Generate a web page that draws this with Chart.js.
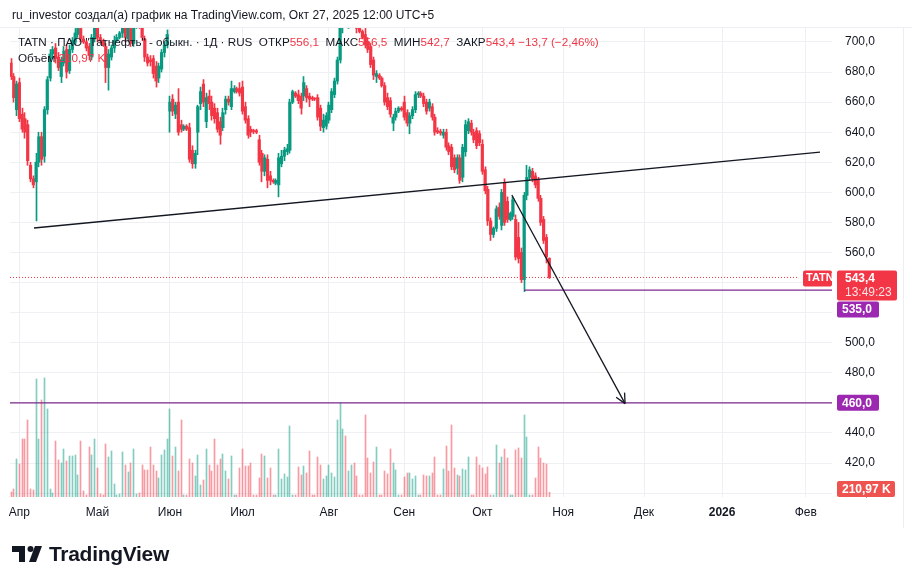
<!DOCTYPE html>
<html lang="ru">
<head>
<meta charset="utf-8">
<script src="https://cdn.jsdelivr.net/npm/chart.js@4.4.1/dist/chart.umd.min.js"></script>
<style>
  html, body { margin: 0; padding: 0; background: #fff; }
  #wrap { position: relative; width: 912px; height: 586px; overflow: hidden; font-family: "Liberation Sans", Arial, sans-serif; color: #131722; }
  #c { position: absolute; left: 0; top: 0; }
  .top { position: absolute; left: 12px; top: 8px; font-size: 12px; white-space: nowrap; }
  .sep { position: absolute; left: 0; top: 27px; width: 912px; height: 1px; background: #eceef2; }
  .legend { position: absolute; left: 18px; top: 34px; font-size: 11.7px; line-height: 16px; white-space: nowrap; z-index: 2; }
  .red { color: #f23645; }
  .logo { position: absolute; left: 12px; top: 542px; display: flex; align-items: center; }
  .logo span { font-size: 21px; font-weight: bold; margin-left: 7px; letter-spacing: -0.3px; }
  .edge { position: absolute; left: 903px; top: 28px; width: 1px; height: 500px; background: #eceef2; }
</style>
</head>
<body>
<div id="wrap">
  <canvas id="c" width="912" height="586"></canvas>
  <div class="top">ru_investor создал(а) график на TradingView.com, Окт 27, 2025 12:00 UTC+5</div>
  <div class="sep"></div>
  <div class="edge"></div>
  <div class="legend">
    <div>TATN · ПАО "Татнефть" - обыкн. · 1Д · RUS&nbsp; ОТКР<span class="red">556,1</span>&nbsp; МАКС<span class="red">556,5</span>&nbsp; МИН<span class="red">542,7</span>&nbsp; ЗАКР<span class="red">543,4 −13,7 (−2,46%)</span></div>
    <div>Объём <span class="red">210,97 K</span></div>
  </div>
  <div class="logo">
    <svg width="30" height="18" viewBox="0 0 30 18">
      <rect x="0" y="1" width="13" height="6" fill="#131722"/>
      <rect x="7" y="1" width="6" height="16" fill="#131722"/>
      <circle cx="18.5" cy="4" r="3" fill="#131722"/>
      <polygon points="23,1 30,1 24,17 17,17" fill="#131722"/>
    </svg>
    <span>TradingView</span>
  </div>
</div>
<script>
// daily bars from Mar 29 to Oct 27 (weekend sessions included), prices in RUB
const opens = [
  686,677,655,673,652,649,645,618,609,607,
  620,637,624,655,676,692,696,690,677,686,
  695,681,695,700,705,709,702,700,697,690,
  702,711,703,701,697,683,690,696,701,703,
  706,712,702,709,699,710,712,712,702,690,
  688,689,684,676,682,693,698,654,662,652,
  660,645,642,644,643,628,619,640,659,672,
  647,664,660,656,653,647,643,655,662,657,
  667,669,669,670,657,649,642,641,641,635,
  626,614,622,611,608,606,605,619,624,627,
  628,660,666,665,664,664,669,664,663,662.5,
  663,656,643,644,648,655,665,674,688,710,
  720,713,722,726,716,709,707,705,700,697,
  688,677,678,676,671,663,661,646,650,654,
  656,660,653,646,651,655,665,666,664,660,
  656,657,650,641,640.5,638,640,631,630,623,
  616,623,610,627,641,646,640,641,639,632,
  615,602,581,572,576,590,578,606,594,582,
  584,582,570,560,542,598,610,614,611,608,
  596,582,570,556.1
];
const highs = [
  689,679,674,676,656,653,648,620,611,626,
  640,640,657,677,695,697,699,693,690,697,
  698,698,703,709,712,713,704,701,699,705,
  714,714,705,702,699,695,698,704,705,707,
  714,716,713,712,713,714,713,715,704,692,
  691,691,687,686,695,700,708,664,665,660,
  669,648,645,645,646,631,628,658,670,675,
  666,668,664,659,656,650,656,664,664,674,
  671,670,673,674,660,651,644,642,642,638,
  628,625,625,614,609,609,626,628,630,632,
  662,668,667,668,666,677,671,666,664,663,
  665,658,652,653,660,669,676,690,712,725,
  728,726,730,729,719,711,708,709,703,699,
  690,681,679,677,673,666,663,652,656,657,
  657,664,655,653,657,667,667,667,666,662,
  662,659,652,643,642,642,642,633,632,625,
  625,625,632,648,649,648,642,643,641,635,
  617,604,583,577,591,593,602,609,597,587,
  597,585,580,563,600,618,617,616,613,610,
  598,584,572,556.5
];
const lows = [
  675,660,651,647,640,636,618,607,603,581,
  617,618,620,652,674,689,686,681,673,684,
  676,679,693,698,703,700,699,694,688,688,
  700,700,699,697,673,668,688,693,700,702,
  703,700,700,697,697,709,709,701,687,684,
  684,676,670,673,680,690,696,640,651,649,
  638,640,641,641,620,616,616,625,655,657,
  643,655,648,646,640,632,641,652,658,655,
  666,666,664,652,646,636,637,639,639,618,
  607,611,603,605,606,605,597,617,621,625,
  626,659,663,659,652,661,660,657,661,661,
  648,641,640,642,646,653,663,672,686,706,
  710,709,716,712,706,706,702,696,693,683,
  675,673,675,670,658,655,650,641,648,653,
  654,648,644,639,649,653,663,663,657,652,
  654,648,638,639,638,636,628,625,615,613,
  612,606,607,624,639,638,633,629,631,612,
  599,578,568,570,574,582,575,578,580,581,
  582,555,553,540,534,595,608,607,603,594,
  578,566,553,542.7
];
const closes = [
  677,663,672,649,642,640,621,609,605,620,
  637,622,655,675,692,695,689,683,688,694,
  680,695,701,706,709,702,700,696,691,703,
  711,703,701,698,683,692,696,701,703,706,
  711,703,710,699,710,712,711,703,690,686,
  687,679,674,684,693,698,705,660,654,658,
  640,642,644,642,622,619,626,657,667,660,
  663,659,651,649,642,638,653,662,660,669,
  669,667,666,654,648,638,640,640.5,640,620,
  614,623,608,608,607,608,623,624,628,629,
  660,667,664,661,656,673,663,662,662,662,
  650,644,648,651,658,667,674,688,710,720,
  714,722,726,716,709,707,703,698,695,685,
  678,679,676,671,660,657,652,650,654,656,
  655,650,646,651,655,665,666,664,659,654,
  660,650,640,640,639.5,640,630,627,617,615,
  623,608,630,645,647,640,635,631,633,614,
  601,581,572,576,589,584,600,580,582,586,
  595,557,556,542,598,610,615,609,605,596,
  580,568,557.1,543.4
];
// volume, thousands of shares
const volumes = [
  225,360,1710,1485,2610,2610,3465,360,315,5310,
  2610,4365,5355,3960,360,180,2520,1665,1530,2160,
  1620,1845,1845,1890,990,2520,270,90,2250,1890,
  2610,1305,135,90,2385,1800,2070,585,90,135,
  2025,1440,1125,1530,2160,135,180,1440,1215,1215,
  2250,1440,1170,855,1890,2115,2610,3960,1845,2250,
  1170,3465,90,90,1710,1530,945,1890,540,765,
  2160,1440,1170,2610,1440,1710,1935,1170,810,1845,
  90,90,1305,2160,1395,1395,1530,90,90,855,
  1935,1845,855,1305,90,90,2160,810,1035,900,
  3195,90,90,1350,990,1395,1080,2070,90,90,
  1800,1440,810,945,1440,1080,900,3465,4230,3060,
  2745,1170,1440,1530,945,90,90,3690,1755,1080,
  1575,2250,90,90,1170,1035,2160,1530,1215,90,
  90,900,1080,1080,810,945,90,90,990,945,
  945,1080,1800,90,90,1260,2295,1170,3240,1305,
  990,945,1260,1215,1800,90,90,1800,1440,1305,
  1035,1350,90,90,2340,1530,1800,2160,1755,90,
  90,2115,2205,1755,3690,2700,90,90,855,2250,
  1755,1530,1485,210.97
];

// time axis: bar number where each month starts
const monthTicks = [3, 31, 57, 83, 114, 141, 169, 198, 227, 255, 285];
const monthLabels = ['Апр', 'Май', 'Июн', 'Июл', 'Авг', 'Сен', 'Окт', 'Ноя', 'Дек', '2026', 'Фев'];
const priceTicks = [400, 420, 440, 460, 480, 500, 520, 540, 560, 580, 600, 620, 640, 660, 680, 700];

// drawings
const trendX = [8.25, 290.1];
const trendY = [576.3, 626.8];
const arrowX = [179.6, 220.2];
const arrowY = [598.2, 459.5];
const supportLevel = 535;
const supportFrom = 184;
const targetLevel = 460;
const lastPrice = 543.4;

const X_MIN = -0.36, X_MAX = 294.4;
const UP = '#089981', DOWN = '#f23645';
const PURPLE_LINE = '#7b2a8e', PURPLE_BOX = '#9c27b0';

const idx = opens.map((_, i) => i);
const isUp = i => closes[i] >= opens[i];
const fmt = v => v.toFixed(1).replace('.', ',');

function roundBox(ctx, x, y, w, h, color) {
    ctx.fillStyle = color;
    ctx.beginPath();
    ctx.roundRect(x, y, w, h, 2);
    ctx.fill();
}

// keep 1px wicks and volume sticks on whole pixels so they stay crisp
const snapThin = {
    id: 'snapThin',
    beforeDatasetsDraw(chart) {
        [6, 7].forEach(d => {
            chart.getDatasetMeta(d).data.forEach(el => { el.x = Math.floor(el.x) + 0.5; });
        });
    }
};

const overlay = {
    id: 'overlay',
    afterDatasetsDraw(chart) {
        // arrow head at the end of the arrow line
        const meta = chart.getDatasetMeta(1);
        const p0 = meta.data[0], p1 = meta.data[1];
        const ang = Math.atan2(p1.y - p0.y, p1.x - p0.x);
        const ctx = chart.ctx;
        ctx.save();
        ctx.strokeStyle = '#131722';
        ctx.lineWidth = 1.3;
        ctx.beginPath();
        [0.45, -0.45].forEach(a => {
            ctx.moveTo(p1.x, p1.y);
            ctx.lineTo(p1.x - 11 * Math.cos(ang + a), p1.y - 11 * Math.sin(ang + a));
        });
        ctx.stroke();
        ctx.restore();
    },
    afterDraw(chart) {
        const ctx = chart.ctx;
        const ys = chart.scales.y;
        const area = chart.chartArea;
        const bx = area.right + 5;
        ctx.save();
        ctx.textBaseline = 'middle';
        ctx.textAlign = 'left';

        const yLast = ys.getPixelForValue(lastPrice);
        // TATN tag inside the plot
        roundBox(ctx, area.right - 29, yLast - 7, 29, 16, DOWN);
        ctx.fillStyle = '#fff';
        ctx.font = 'bold 11px "Liberation Sans", Arial, sans-serif';
        ctx.fillText('TATN', area.right - 26, yLast + 1);

        // last price + countdown
        roundBox(ctx, bx, yLast - 7, 60, 30, DOWN);
        ctx.fillStyle = '#fff';
        ctx.font = 'bold 12px "Liberation Sans", Arial, sans-serif';
        ctx.fillText(fmt(lastPrice), bx + 8, yLast + 1);
        ctx.font = '12px "Liberation Sans", Arial, sans-serif';
        ctx.fillStyle = '#ffe3e5';
        ctx.fillText('13:49:23', bx + 8, yLast + 15);

        // support label (pushed under the price box)
        const ySup = yLast + 24;
        roundBox(ctx, bx, ySup, 42, 16, PURPLE_BOX);
        ctx.fillStyle = '#fff';
        ctx.font = 'bold 12px "Liberation Sans", Arial, sans-serif';
        ctx.fillText(fmt(supportLevel), bx + 5, ySup + 8.5);

        // target label
        const yT = ys.getPixelForValue(targetLevel);
        roundBox(ctx, bx, yT - 8, 42, 16, PURPLE_BOX);
        ctx.fillStyle = '#fff';
        ctx.fillText(fmt(targetLevel), bx + 5, yT + 0.5);

        // volume label
        roundBox(ctx, bx, area.bottom - 16, 58, 16, '#ef5350');
        ctx.fillStyle = '#fff';
        ctx.fillText('210,97 K', bx + 5, area.bottom - 7.5);
        ctx.restore();
    }
};

new Chart(document.getElementById('c'), {
    type: 'bar',
    data: {
        datasets: [
            {
                type: 'line',
                data: trendX.map((x, i) => ({ x, y: trendY[i] })),
                borderColor: '#131722', borderWidth: 1.3, pointRadius: 0, order: 1
            },
            {
                type: 'line',
                data: arrowX.map((x, i) => ({ x, y: arrowY[i] })),
                borderColor: '#131722', borderWidth: 1.3, pointRadius: 0, order: 1
            },
            {
                type: 'line',
                data: [{ x: supportFrom, y: supportLevel }, { x: X_MAX, y: supportLevel }],
                borderColor: PURPLE_LINE, borderWidth: 1.3, pointRadius: 0, order: 1
            },
            {
                type: 'line',
                data: [{ x: X_MIN, y: targetLevel }, { x: X_MAX, y: targetLevel }],
                borderColor: PURPLE_LINE, borderWidth: 1.3, pointRadius: 0, order: 1
            },
            {
                type: 'line',
                data: [{ x: X_MIN, y: lastPrice }, { x: 282.5, y: lastPrice }],
                borderColor: DOWN, borderWidth: 1, borderDash: [1, 2], pointRadius: 0, order: 1
            },
            {
                // candle bodies
                data: idx.map(i => ({ x: i, y: [opens[i], closes[i]] })),
                backgroundColor: ctx => isUp(ctx.dataIndex) ? UP : DOWN,
                barThickness: 2.5, minBarLength: 1, grouped: false, order: 2
            },
            {
                // wicks
                data: idx.map(i => ({ x: i, y: [lows[i], highs[i]] })),
                backgroundColor: ctx => isUp(ctx.dataIndex) ? UP : DOWN,
                barThickness: 1, grouped: false, order: 3
            },
            {
                // volume
                yAxisID: 'yv',
                data: idx.map(i => ({ x: i, y: volumes[i] })),
                backgroundColor: ctx => isUp(ctx.dataIndex) ? 'rgba(8,153,129,0.5)' : 'rgba(242,54,69,0.5)',
                barThickness: 1, grouped: false, order: 4
            }
        ]
    },
    options: {
        responsive: false,
        animation: false,
        devicePixelRatio: 1,
        layout: { padding: { left: 10, right: 9, top: 28, bottom: 59 } },
        plugins: { legend: { display: false }, tooltip: { enabled: false } },
        scales: {
            x: {
                type: 'linear',
                min: X_MIN, max: X_MAX,
                offset: false,
                grid: { color: '#eef0f3', drawTicks: false, offset: false },
                border: { display: false },
                afterBuildTicks: s => { s.ticks = monthTicks.map(v => ({ value: v })); },
                afterFit: s => { s.height = 30; },
                ticks: {
                    autoSkip: false, maxRotation: 0, padding: 8, color: '#131722',
                    font: c => ({ family: '"Liberation Sans", Arial, sans-serif', size: 12, weight: c.tick && c.tick.value === 255 ? 'bold' : 'normal' }),
                    callback: v => monthLabels[monthTicks.indexOf(v)]
                }
            },
            y: {
                position: 'right',
                min: 397.4, max: 709.3,
                grid: { color: '#eef0f3', drawTicks: false },
                border: { display: false },
                afterBuildTicks: s => { s.ticks = priceTicks.map(v => ({ value: v })); },
                afterFit: s => { s.width = 71; },
                ticks: {
                    padding: 13, color: '#131722',
                    font: { family: '"Liberation Sans", Arial, sans-serif', size: 12 },
                    callback: v => fmt(v)
                }
            },
            yv: { display: false, min: 0, max: 21100 }
        }
    },
    plugins: [snapThin, overlay]
});
</script>
</body>
</html>
